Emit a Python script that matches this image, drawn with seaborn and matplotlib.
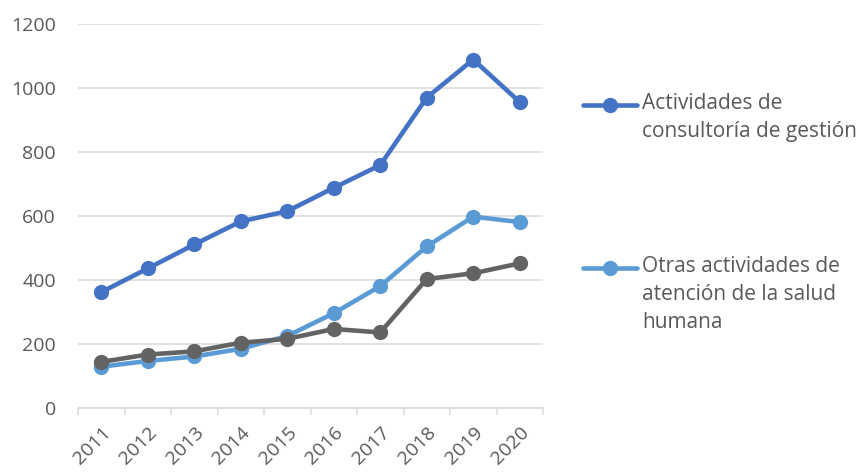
import numpy as np
import pandas as pd
import matplotlib
matplotlib.use('Agg')
import matplotlib.pyplot as plt
from matplotlib.lines import Line2D
import seaborn as sns

years = ['2011', '2012', '2013', '2014', '2015', '2016', '2017', '2018', '2019', '2020']
consultoria = [362, 436, 511, 583, 615, 688, 759, 970, 1089, 956]
salud = [129, 147, 161, 185, 225, 296, 381, 505, 598, 581]
otros = [144, 167, 177, 204, 216, 247, 236, 403, 421, 452]

names = ['Actividades de\nconsultoría de gestión',
         'Otras actividades de\natención de la salud\nhumana',
         'Otros']
colors = ['#4472C4', '#5B9BD5', '#636363']

df = pd.DataFrame({
    'year': years * 3,
    'value': consultoria + salud + otros,
    'serie': [names[0]] * 10 + [names[1]] * 10 + [names[2]] * 10,
})

sns.set_style('white')
plt.rcParams['font.family'] = ['Open Sans', 'DejaVu Sans']

fig = plt.figure(figsize=(8.6, 4.74), dpi=100)
ax = fig.add_axes([78 / 860, 1 - 408 / 474, 465 / 860, 384 / 474])

sns.lineplot(data=df, x='year', y='value', hue='serie', palette=colors,
             hue_order=names, marker='o', markersize=11, markeredgewidth=0,
             linewidth=3.3, sort=False, legend=False, ax=ax)

ax.set_ylim(0, 1200)
ax.set_yticks(range(0, 1201, 200))
ax.set_xlim(-0.5, 9.5)
ax.grid(axis='y', color='#D9D9D9', linewidth=1.1)
ax.set_axisbelow(True)
for s in ['left', 'right', 'top']:
    ax.spines[s].set_visible(False)
ax.spines['bottom'].set_color('#D9D9D9')
ax.spines['bottom'].set_linewidth(1.1)
ax.set_xlabel('')
ax.set_ylabel('')

# tick marks between categories, like Excel
ax.set_xticks(np.arange(-0.5, 10, 1), minor=True)
ax.tick_params(axis='x', which='minor', length=5, color='#D9D9D9', width=1.1,
               direction='out', bottom=True)
ax.tick_params(axis='x', which='major', length=0, labelsize=14, colors='#595959', pad=11)
ax.tick_params(axis='y', length=0, labelsize=14, colors='#595959', pad=16)
plt.setp(ax.get_xticklabels(), rotation=45, ha='right', rotation_mode='anchor')

# legend on the right (only the first two series are shown)
leg_y = [105, 268]
for i in range(2):
    yf = 1 - leg_y[i] / 474
    fig.add_artist(Line2D([583 / 860, 637 / 860], [yf, yf], color=colors[i],
                          linewidth=3.3, transform=fig.transFigure))
    fig.add_artist(Line2D([610 / 860], [yf], color=colors[i], marker='o',
                          markersize=11, markeredgewidth=0, transform=fig.transFigure))
    fig.text(642 / 860, yf + 12 / 474, names[i], ha='left', va='top',
             fontsize=15, color='#595959', linespacing=1.45)

fig.savefig('out.png', dpi=100)
